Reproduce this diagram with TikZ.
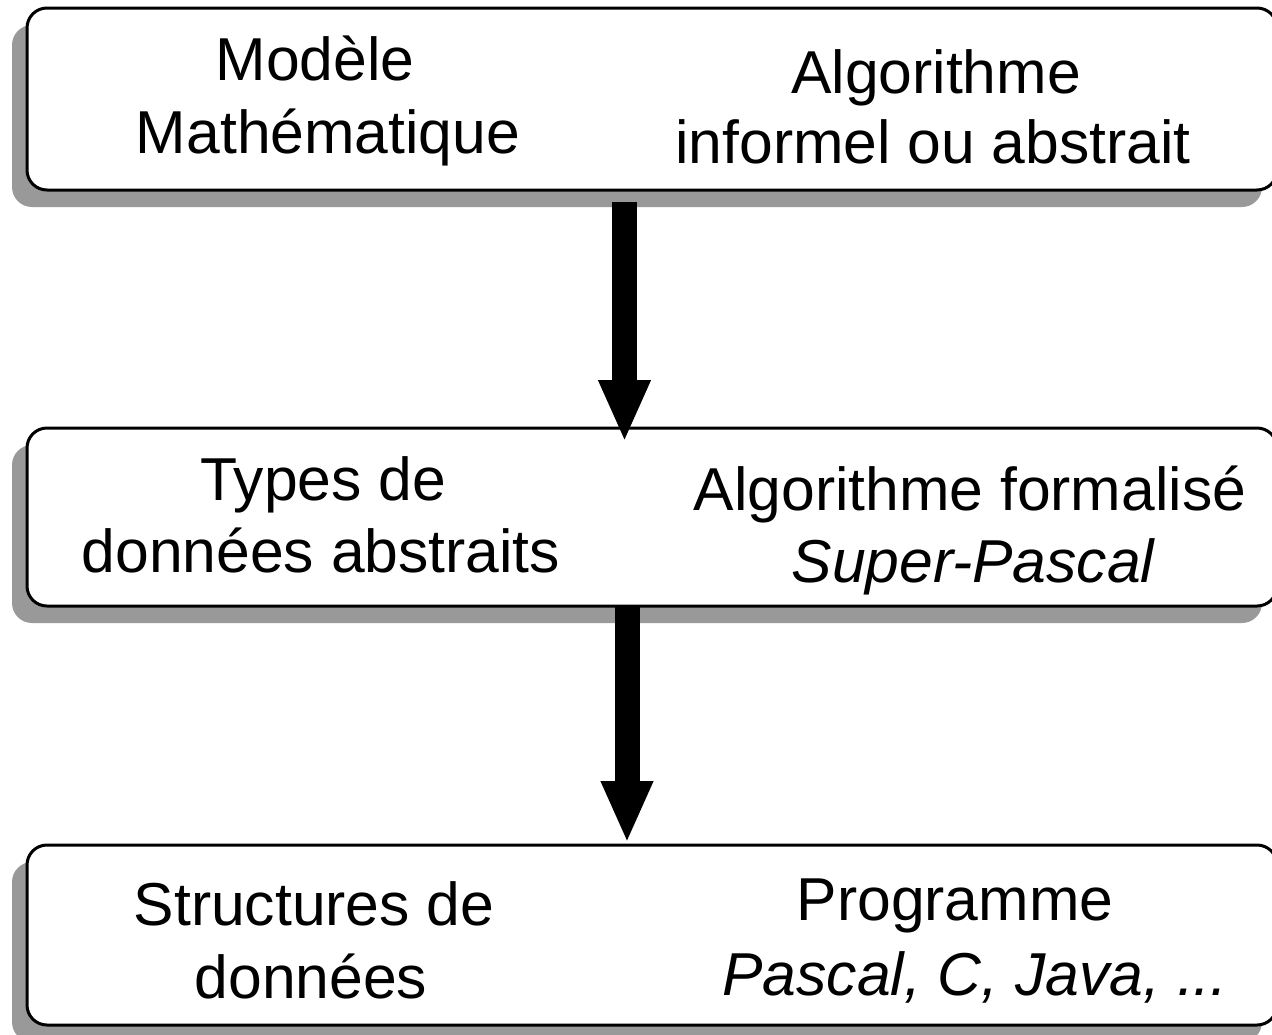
\documentclass[tikz,border=0pt]{standalone}
\usepackage{fontspec}
\setmainfont{Liberation Sans}
\usetikzlibrary{arrows.meta,shadows}
\begin{document}
\begin{tikzpicture}[x=1pt,y=-1pt,
  stage/.style={draw=black, line width=3pt, fill=white, rounded corners=20pt,
    minimum width=1250pt, inner sep=0pt,
    general shadow={fill=shadowgray, shadow xshift=-15pt, shadow yshift=-17pt}},
  lbl/.style={anchor=base, inner sep=0pt, font=\fontsize{60.6}{70}\selectfont},
  bigarrow/.style={line width=25pt, -{Triangle[width=48pt,length=62pt]}}]
\definecolor{shadowgray}{RGB}{153,153,153}
\useasboundingbox (0,0) rectangle (1272,1034);
\clip (0,0) rectangle (1272,1034);

% the three stages
\node[stage, minimum height=182pt] (s1) at (652,99) {};
\node[stage, minimum height=178pt] (s2) at (652,517) {};
\node[stage, minimum height=180pt] (s3) at (652,935) {};

% thick arrows between stages
\coordinate (a1s) at (624.5,202);
\coordinate (a1e) at (624.5,442);
\coordinate (a2s) at (627,605);
\coordinate (a2e) at (627,843);
\draw[bigarrow] (a1s) -- (a1e);
\draw[bigarrow] (a2s) -- (a2e);

% texts of the first stage
\node[lbl] (t11) at (315,80) {Modèle};
\node[lbl] (t12) at (328,153) {Mathématique};
\node[lbl] (t13) at (936,93) {Algorithme};
\node[lbl] (t14) at (933,163) {informel ou abstrait};

% texts of the second stage
\node[lbl] (t21) at (323,500) {Types de};
\node[lbl] (t22) at (321,572) {données abstraits};
\node[lbl] (t23) at (970,510) {Algorithme formalisé};
\node[lbl] (t24) at (973,582) {\itshape Super-Pascal};

% texts of the third stage
\node[lbl] (t31) at (314,925) {Structures de};
\node[lbl] (t32) at (311,998) {données};
\node[lbl] (t33) at (955,920) {Programme};
\node[lbl] (t34) at (975,995) {\itshape Pascal, C, Java, ...};
\end{tikzpicture}
\end{document}
